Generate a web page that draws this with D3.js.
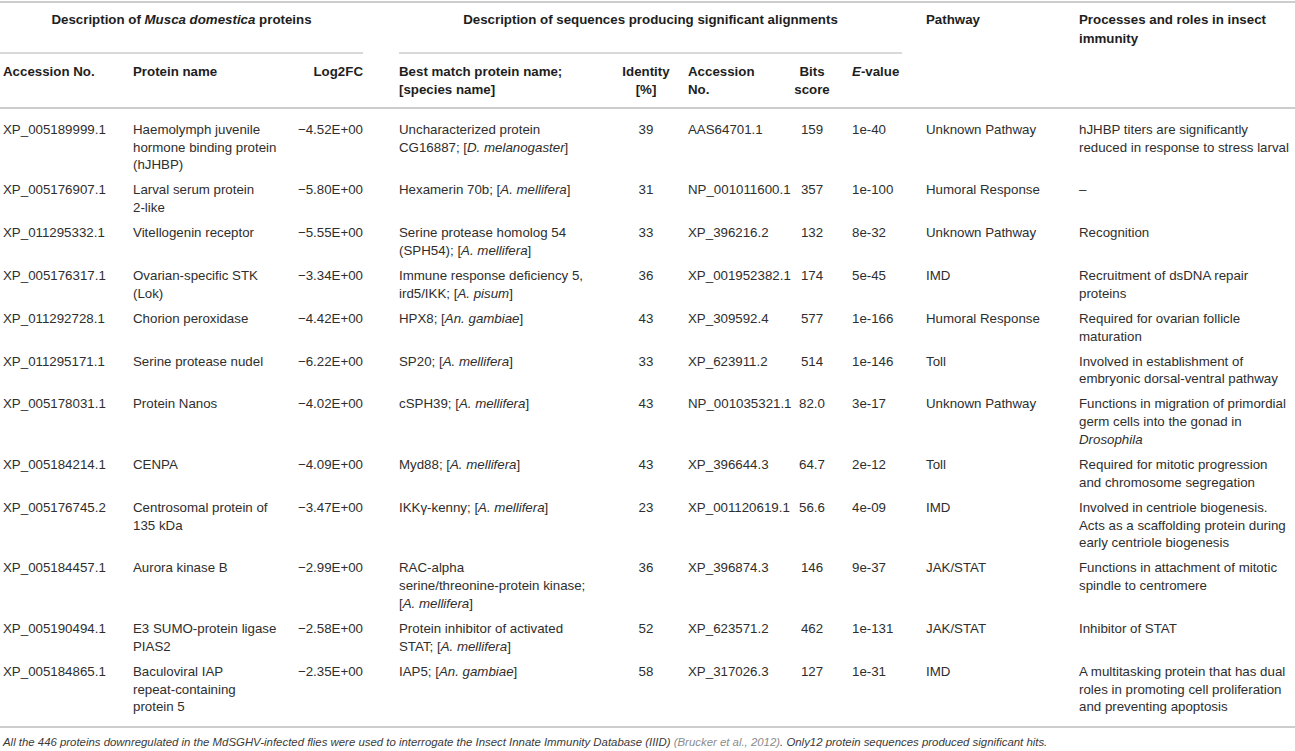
<!DOCTYPE html>
<html>
<head>
<meta charset="utf-8">
<script src="https://cdn.jsdelivr.net/npm/d3@7"></script>
<style>
  body { margin: 0; background: #fff; }
  svg text { font-family: "Liberation Sans", Arial, Helvetica, sans-serif; }
</style>
</head>
<body>
<script>
(function () {

    var w = 1295;
    var h = 751;

    // table content ("\n" = printed line break, *x* = italic)
    var accession = ["XP_005189999.1", "XP_005176907.1", "XP_011295332.1", "XP_005176317.1",
        "XP_011292728.1", "XP_011295171.1", "XP_005178031.1", "XP_005184214.1",
        "XP_005176745.2", "XP_005184457.1", "XP_005190494.1", "XP_005184865.1"];
    var proteinName = ["Haemolymph juvenile\nhormone binding protein\n(hJHBP)", "Larval serum protein\n2-like",
        "Vitellogenin receptor", "Ovarian-specific STK\n(Lok)", "Chorion peroxidase", "Serine protease nudel",
        "Protein Nanos", "CENPA", "Centrosomal protein of\n135 kDa", "Aurora kinase B",
        "E3 SUMO-protein ligase\nPIAS2", "Baculoviral IAP\nrepeat-containing\nprotein 5"];
    var log2fc = [-4.52, -5.80, -5.55, -3.34, -4.42, -6.22, -4.02, -4.09, -3.47, -2.99, -2.58, -2.35];
    var bestMatch = ["Uncharacterized protein\nCG16887; [*D. melanogaster*]", "Hexamerin 70b; [*A. mellifera*]",
        "Serine protease homolog 54\n(SPH54); [*A. mellifera*]", "Immune response deficiency 5,\nird5/IKK; [*A. pisum*]",
        "HPX8; [*An. gambiae*]", "SP20; [*A. mellifera*]", "cSPH39; [*A. mellifera*]", "Myd88; [*A. mellifera*]",
        "IKK\u03b3-kenny; [*A. mellifera*]", "RAC-alpha\nserine/threonine-protein kinase;\n[*A. mellifera*]",
        "Protein inhibitor of activated\nSTAT; [*A. mellifera*]", "IAP5; [*An. gambiae*]"];
    var identity = [39, 31, 33, 36, 43, 33, 43, 43, 23, 36, 52, 58];
    var matchAccession = ["AAS64701.1", "NP_001011600.1", "XP_396216.2", "XP_001952382.1", "XP_309592.4",
        "XP_623911.2", "NP_001035321.1", "XP_396644.3", "XP_001120619.1", "XP_396874.3",
        "XP_623571.2", "XP_317026.3"];
    var bitsScore = ["159", "357", "132", "174", "577", "514", "82.0", "64.7", "56.6", "146", "462", "127"];
    var eValue = ["1e-40", "1e-100", "8e-32", "5e-45", "1e-166", "1e-146", "3e-17", "2e-12", "4e-09",
        "9e-37", "1e-131", "1e-31"];
    var pathway = ["Unknown Pathway", "Humoral Response", "Unknown Pathway", "IMD", "Humoral Response", "Toll",
        "Unknown Pathway", "Toll", "IMD", "JAK/STAT", "JAK/STAT", "IMD"];
    var roles = ["hJHBP titers are significantly\nreduced in response to stress larval", "\u2013",
        "Recognition", "Recruitment of dsDNA repair\nproteins", "Required for ovarian follicle\nmaturation",
        "Involved in establishment of\nembryonic dorsal-ventral pathway",
        "Functions in migration of primordial\ngerm cells into the gonad in\n*Drosophila*",
        "Required for mitotic progression\nand chromosome segregation",
        "Involved in centriole biogenesis.\nActs as a scaffolding protein during\nearly centriole biogenesis",
        "Functions in attachment of mitotic\nspindle to centromere", "Inhibitor of STAT",
        "A multitasking protein that has dual\nroles in promoting cell proliferation\nand preventing apoptosis"];

    var groupHeaders = ["Description of *Musca domestica* proteins",
        "Description of sequences producing significant alignments"];
    var colHeaders = ["Accession No.", "Protein name", "Log2FC", "Best match protein name;\n[species name]",
        "Identity\n[%]", "Accession\nNo.", "Bits\nscore", "*E*-value", "Pathway",
        "Processes and roles in insect\nimmunity"];
    var footnote = "All the 446 proteins downregulated in the MdSGHV-infected flies were used to interrogate the Insect Innate Immunity Database (IIID) ";
    var footCite = "(Brucker et al., 2012)";
    var footEnd = ". Only12 protein sequences produced significant hits.";

    function fmtFC(v) {
        return (v < 0 ? "\u2212" : "") + Math.abs(v).toFixed(2) + "E+00";
    }

    // columns: x anchor position, text anchor, cell values
    var columns = [
        { x: 3, anchor: "start", values: accession },
        { x: 133, anchor: "start", values: proteinName },
        { x: 363, anchor: "end", values: log2fc.map(fmtFC) },
        { x: 399, anchor: "start", values: bestMatch },
        { x: 646, anchor: "middle", values: identity.map(String) },
        { x: 688, anchor: "start", values: matchAccession },
        { x: 812, anchor: "middle", values: bitsScore },
        { x: 852, anchor: "start", values: eValue },
        { x: 926, anchor: "start", values: pathway },
        { x: 1079, anchor: "start", values: roles }
    ];

    var fontSize = 13.3;
    var lineH = 17.8;
    var rowGap = 7.2;
    var lineColor = "#cdcdcd";
    var textColor = "#2e2e2e";
    var headColor = "#1e1e1e";

    var svg = d3.select("body").append("svg")
        .attr("width", w)
        .attr("height", h);

    // write text with *italic* markup into a <text>, one tspan per line
    function richText(sel, str, x, y0, step) {
        str.split("\n").forEach(function (line, li) {
            var parts = line.split("*");
            var first = true;
            parts.forEach(function (p, pi) {
                if (p === "") { return; }
                var t = sel.append("tspan").text(p);
                if (first) { t.attr("x", x).attr("y", y0 + li * step); first = false; }
                if (pi % 2 === 1) { t.attr("font-style", "italic"); }
            });
        });
    }

    function hline(x1, x2, y, sw) {
        svg.append("line")
            .attr("x1", x1).attr("x2", x2)
            .attr("y1", y).attr("y2", y)
            .attr("stroke", lineColor)
            .attr("stroke-width", sw);
    }

    // vertical placement of rows
    var nLines = accession.map(function (d, i) {
        return d3.max(columns, function (c) { return c.values[i].split("\n").length; });
    });
    var rowStart = [0].concat(Array.from(d3.cumsum(nLines, function (n) { return n * lineH + rowGap; })));
    var firstRowY = 129; // centre of the first body line
    var base = 4.7; // centre -> baseline

    // rules
    hline(0, w, 2, 2);
    hline(0, 363, 53, 1.5);
    hline(399, 902, 53, 1.5);
    hline(0, w, 108, 2);
    hline(0, w, 727, 2);

    // group headers
    var gx = [(0 + 363) / 2, (399 + 902) / 2];
    groupHeaders.forEach(function (g, i) {
        var t = svg.append("text")
            .attr("text-anchor", "middle")
            .attr("font-size", fontSize)
            .attr("font-weight", "bold")
            .attr("fill", headColor);
        richText(t, g, gx[i], 19 + base, lineH);
    });
    // pathway and roles headers sit in the top band
    [8, 9].forEach(function (ci) {
        var t = svg.append("text")
            .attr("font-size", fontSize)
            .attr("font-weight", "bold")
            .attr("fill", headColor);
        richText(t, colHeaders[ci], columns[ci].x, 19 + base, 19);
    });

    // column headers
    columns.forEach(function (c, ci) {
        if (ci >= 8) { return; }
        var t = svg.append("text")
            .attr("text-anchor", c.anchor)
            .attr("font-size", fontSize)
            .attr("font-weight", "bold")
            .attr("fill", headColor);
        richText(t, colHeaders[ci], c.x, 71 + base, lineH);
    });

    // body cells
    columns.forEach(function (c) {
        svg.append("g").selectAll("text")
            .data(c.values)
            .enter()
            .append("text")
            .attr("text-anchor", c.anchor)
            .attr("font-size", fontSize)
            .attr("fill", textColor)
            .each(function (d, i) {
                richText(d3.select(this), d, c.x, firstRowY + rowStart[i] + base, lineH);
            });
    });

    // footnote
    var ft = svg.append("text")
        .attr("x", 3)
        .attr("y", 742 + 4)
        .attr("font-size", 11.4)
        .attr("font-style", "italic")
        .attr("fill", "#3a3a3a");
    ft.append("tspan").text(footnote);
    ft.append("tspan").attr("fill", "#8c8c8c").text(footCite);
    ft.append("tspan").text(footEnd);
})();
</script>
</body>
</html>
